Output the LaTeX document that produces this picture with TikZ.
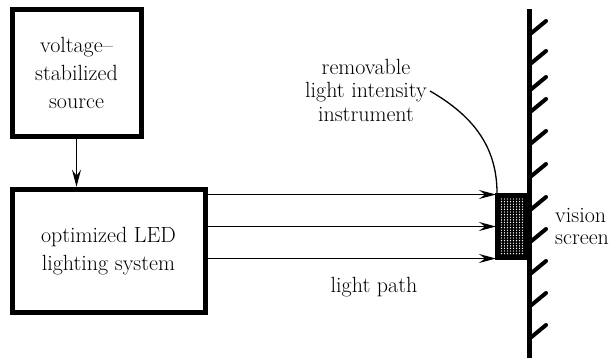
\documentclass[tikz,border=0pt]{standalone}
\usetikzlibrary{arrows.meta,calc}
\begin{document}
\begin{tikzpicture}[x=1pt,y=-1pt,
  blk/.style={draw,line width=5pt,inner sep=0pt,align=center,font=\fontsize{22}{28}\selectfont},
  lbl/.style={inner sep=2pt,font=\fontsize{22}{23.5}\selectfont},
  ray/.style={line width=1.5pt,-{Stealth[length=17pt,width=9pt,inset=6pt]}},
  hatch/.style={line width=4pt,line cap=round}]
\useasboundingbox (0,0) rectangle (615,360);
% boxes
\node[blk,minimum width=129pt,minimum height=127pt] (src) at (76.5,73) {voltage--\\stabilized\\source};
\node[blk,minimum width=193pt,minimum height=123.5pt] (led) at (108.5,251) {optimized LED\\lighting system};
\draw[ray] (src.south) -- (src.south |- led.north);
% instrument
\node[draw,fill=black,line width=3pt,minimum width=31pt,minimum height=64pt,inner sep=0pt] (inst) at (512,226.5) {};
\foreach \i in {0,...,7}{
  \foreach \j in {0,...,21}{
    \fill[white] (501.5+3*\i,199+2.6*\j) circle (0.7pt);
  }
}
% rays
\foreach \d [count=\i] in {-32,0,32}{
  \coordinate (t\i) at ($(inst.west)+(0,\d)$);
  \draw[ray,shorten >=-1pt] (led.east |- t\i) -- (t\i);
}
% screen
\draw[line width=5pt] (529,9) -- (529,358);
\foreach \t in {19,49,75,97,129,162,195,227,259,291,323}{
  \draw[hatch] (529,\t+16) -- (546,\t+2);
}
% labels
\node[lbl,align=center] (lab) at (366,90) {removable\\light intensity\\instrument};
\draw[line width=1.3pt] ([xshift=1pt,yshift=-1pt]lab.east) to[out=-30,in=90] ([xshift=2pt]inst.north west);
\node[lbl,anchor=base] (lp) at (374,292) {light path};
\node[lbl,align=left,anchor=north west,font=\fontsize{22}{22}\selectfont] (vs) at (553,206) {vision\\screen};
\end{tikzpicture}
\end{document}
